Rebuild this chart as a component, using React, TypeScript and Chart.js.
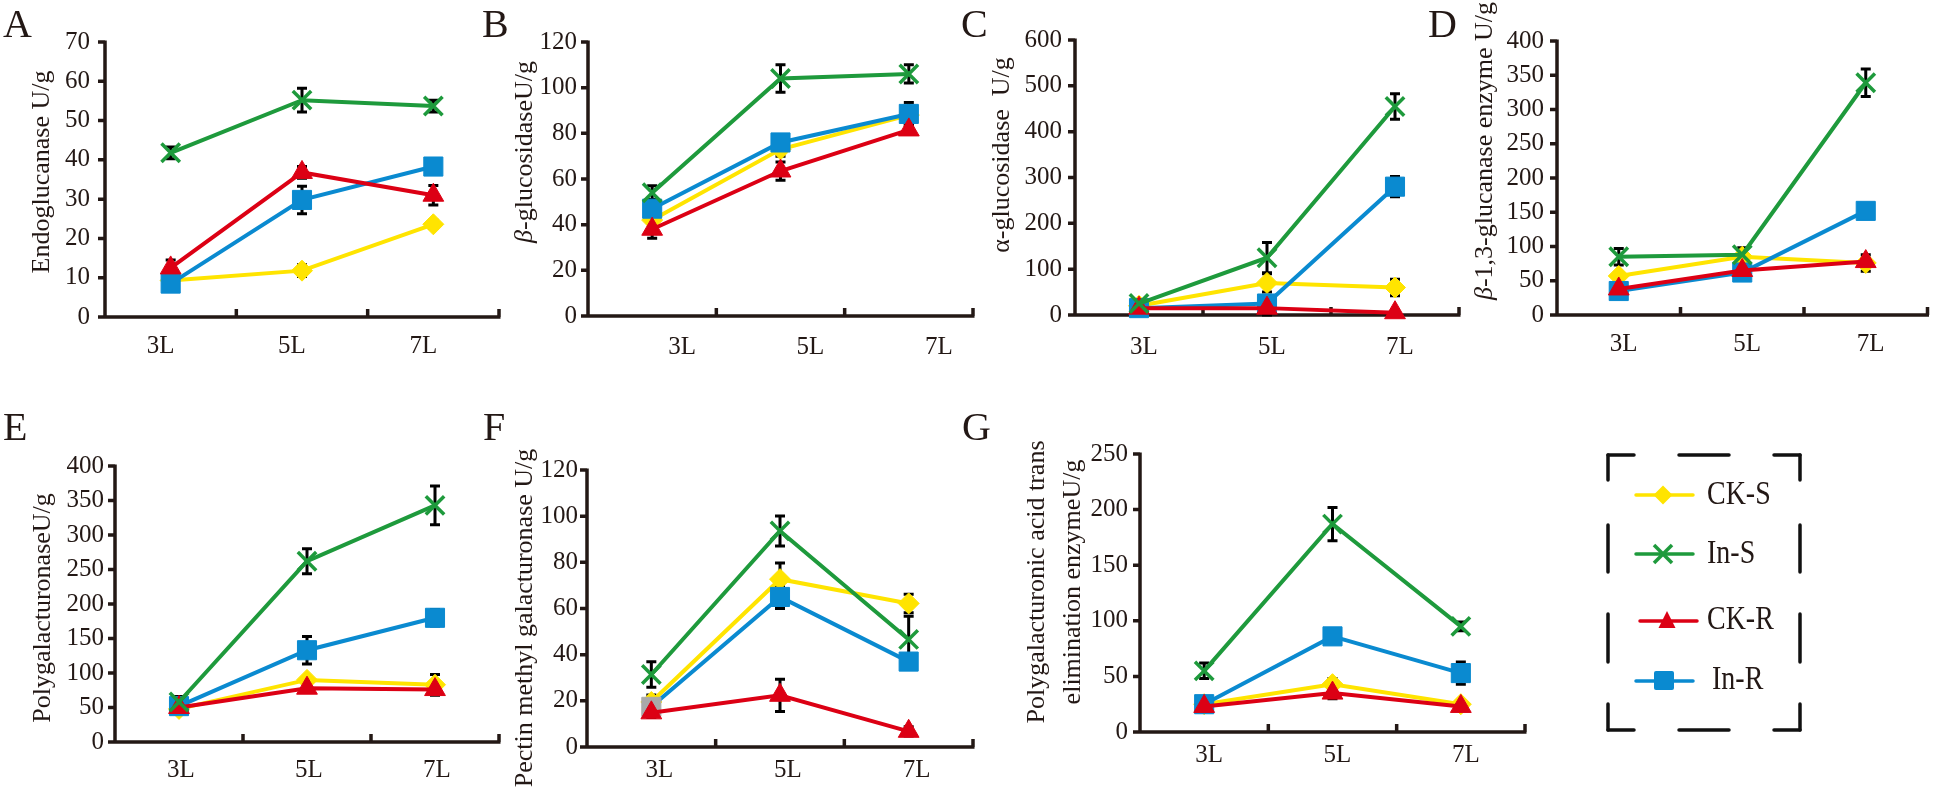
import React, { useEffect, useRef } from 'react';
import { Chart, registerables } from 'chart.js';

Chart.register(...registerables);

const W = 1944;
const H = 791;

const categories = ['3L', '5L', '7L'];
const seriesNames = ['CK-S', 'In-S', 'CK-R', 'In-R'];

// A: Endoglucanase
const endoCKS = [9.3, 11.8, 23.6];
const endoInS = [41.8, 55.2, 53.7];
const endoCKR = [12.5, 36.8, 31.0];
const endoInR = [8.5, 29.8, 38.3];
const endoCKSErr = [0.8, 1.5, 1.0];
const endoInSErr = [1.5, 3.0, 1.5];
const endoCKRErr = [2.0, 1.5, 2.5];
const endoInRErr = [2.0, 3.5, 1.0];

// B: beta-glucosidase
const bgluCKS = [42, 73, 88];
const bgluInS = [54, 104, 106];
const bgluCKR = [38, 63.5, 81.5];
const bgluInR = [47, 76, 88.5];
const bgluCKSErr = [2, 3, 2];
const bgluInSErr = [3, 6, 4];
const bgluCKRErr = [4, 4, 2];
const bgluInRErr = [2, 2, 5];

// C: alpha-glucosidase
const agluCKS = [20, 70, 60];
const agluInS = [25, 125, 455];
const agluCKR = [15, 15, 5];
const agluInR = [15, 25, 280];
const agluCKSErr = [5, 20, 18];
const agluInSErr = [5, 33, 28];
const agluCKRErr = [3, 15, 3];
const agluInRErr = [5, 5, 22];

// D: beta-1,3-glucanase
const glucCKS = [57, 85, 76];
const glucInS = [85, 88, 339];
const glucCKR = [38, 65, 78];
const glucInR = [35, 62, 152];
const glucCKSErr = [5, 5, 12];
const glucInSErr = [12, 10, 20];
const glucCKRErr = [5, 5, 5];
const glucInRErr = [5, 5, 10];

// E: Polygalacturonase
const pgCKS = [48, 90, 83];
const pgInS = [58, 262, 343];
const pgCKR = [50, 78, 76];
const pgInR = [52, 133, 180];
const pgCKSErr = [5, 5, 15];
const pgInSErr = [8, 18, 28];
const pgCKRErr = [5, 5, 8];
const pgInRErr = [10, 20, 12];

// F: Pectin methyl galacturonase
const pmgCKS = [19.5, 72.7, 62.2];
const pmgInS = [31.4, 93.6, 46.6];
const pmgCKR = [14.8, 22.4, 6.8];
const pmgInR = [17.4, 65, 37];
const pmgCKSErr = [3, 7, 4];
const pmgInSErr = [5.5, 6.5, 10];
const pmgCKRErr = [2, 7, 2];
const pmgInRErr = [3, 5, 3];

// G: Polygalacturonic acid trans elimination enzyme
const pgtCKS = [25, 43, 25];
const pgtInS = [55, 187, 95];
const pgtCKR = [23, 35, 23];
const pgtInR = [25, 86, 53];
const pgtCKSErr = [3, 5, 3];
const pgtInSErr = [7, 15, 4];
const pgtCKRErr = [3, 5, 3];
const pgtInRErr = [3, 6, 10];

const FONT = "'Liberation Serif', 'Times New Roman', serif";
const TEXT = '#231815';
const AXIS = '#231815';
const YELLOW = '#FFE400';
const GREEN = '#1E9A3C';
const RED = '#DC0014';
const BLUE = '#0A8AD0';
const GRAY = '#A9A9A9';

const seriesStyles = [
  { color: YELLOW, pointStyle: 'rectRot', radius: 10.5, pbw: 1, order: 3 },
  { color: GREEN, pointStyle: 'crossRot', radius: 13, pbw: 3.5, order: 0 },
  { color: RED, pointStyle: 'triangle', radius: 12, pbw: 1, order: 1 },
  { color: BLUE, pointStyle: 'rect', radius: 13.5, pbw: 1, order: 2 },
];

type Seg = { t: string; italic?: boolean };

type PanelSpec = {
  series: number[][];
  errors: number[][];
  yMax: number;
  yStep: number;
  left: number;
  top: number;
  right: number;
  bottom: number;
  labelOffset: number;
  labelPad: number;
  tickPad: number;
  title: Seg[][];
  titleX: number[];
  titleY: number;
  pointColors?: (string[] | null)[];
};

const panels: PanelSpec[] = [
  {
    series: [endoCKS, endoInS, endoCKR, endoInR],
    errors: [endoCKSErr, endoInSErr, endoCKRErr, endoInRErr],
    yMax: 70, yStep: 10, left: 105, top: 42, right: 499, bottom: 317,
    labelOffset: -10, labelPad: 14, tickPad: 15,
    title: [[{ t: 'Endoglucanase U/g' }]], titleX: [42], titleY: 172,
  },
  {
    series: [bgluCKS, bgluInS, bgluCKR, bgluInR],
    errors: [bgluCKSErr, bgluInSErr, bgluCKRErr, bgluInRErr],
    yMax: 120, yStep: 20, left: 588, top: 42, right: 973, bottom: 316,
    labelOffset: 30, labelPad: 16, tickPad: 11,
    title: [[{ t: 'β', italic: true }, { t: '-glucosidaseU/g' }]], titleX: [525], titleY: 152,
  },
  {
    series: [agluCKS, agluInS, agluCKR, agluInR],
    errors: [agluCKSErr, agluInSErr, agluCKRErr, agluInRErr],
    yMax: 600, yStep: 100, left: 1075, top: 40, right: 1459, bottom: 315,
    labelOffset: 5, labelPad: 17, tickPad: 13,
    title: [[{ t: 'α-glucosidase  U/g' }]], titleX: [1002], titleY: 155,
  },
  {
    series: [glucCKS, glucInS, glucCKR, glucInR],
    errors: [glucCKSErr, glucInSErr, glucCKRErr, glucInRErr],
    yMax: 400, yStep: 50, left: 1557, top: 41, right: 1940, bottom: 315,
    labelOffset: 5, labelPad: 14, tickPad: 13,
    title: [[{ t: 'β', italic: true }, { t: '-1,3-glucanase enzyme U/g' }]], titleX: [1485], titleY: 151,
  },
  {
    series: [pgCKS, pgInS, pgCKR, pgInR],
    errors: [pgCKSErr, pgInSErr, pgCKRErr, pgInRErr],
    yMax: 400, yStep: 50, left: 115, top: 466, right: 499, bottom: 742,
    labelOffset: 2, labelPad: 13, tickPad: 11,
    title: [[{ t: 'PolygalacturonaseU/g' }]], titleX: [43], titleY: 608,
  },
  {
    series: [pmgCKS, pmgInS, pmgCKR, pmgInR],
    errors: [pmgCKSErr, pmgInSErr, pmgCKRErr, pmgInRErr],
    yMax: 120, yStep: 20, left: 587, top: 470, right: 973, bottom: 747,
    labelOffset: 8, labelPad: 8, tickPad: 9,
    title: [[{ t: 'Pectin methyl galacturonase U/g' }]], titleX: [525], titleY: 618,
    pointColors: [null, null, null, [GRAY, BLUE, BLUE]],
  },
  {
    series: [pgtCKS, pgtInS, pgtCKR, pgtInR],
    errors: [pgtCKSErr, pgtInSErr, pgtCKRErr, pgtInRErr],
    yMax: 250, yStep: 50, left: 1140, top: 454, right: 1525, bottom: 732,
    labelOffset: 5, labelPad: 8, tickPad: 12,
    title: [[{ t: 'Polygalacturonic acid trans' }], [{ t: 'elimination enzymeU/g' }]],
    titleX: [1037, 1073], titleY: 582,
  },
];

function buildConfig(p: PanelSpec): any {
  const framePlugin = {
    id: 'frameAndErrors',
    beforeDatasetsDraw(chart: any) {
      const { ctx, chartArea, scales } = chart;
      const { left, right, top, bottom } = chartArea;
      const y = scales.y;
      ctx.save();
      ctx.strokeStyle = AXIS;
      ctx.lineWidth = 3.5;
      ctx.lineCap = 'butt';
      ctx.beginPath();
      ctx.moveTo(left, top - 1.5);
      ctx.lineTo(left, bottom + 1.5);
      ctx.moveTo(left - 7, bottom);
      ctx.lineTo(right + 1.5, bottom);
      y.ticks.forEach((t: any) => {
        const py = y.getPixelForValue(t.value);
        ctx.moveTo(left - 7, py);
        ctx.lineTo(left, py);
      });
      const n = categories.length;
      for (let k = 1; k <= n; k++) {
        const px = left + ((right - left) * k) / n;
        ctx.moveTo(px, bottom);
        ctx.lineTo(px, bottom - 8);
      }
      ctx.stroke();

      // error bars
      ctx.strokeStyle = '#000';
      ctx.lineWidth = 3;
      p.series.forEach((vals, di) => {
        const meta = chart.getDatasetMeta(di);
        vals.forEach((v, j) => {
          const e = p.errors[di][j];
          const px = meta.data[j].x;
          const y1 = y.getPixelForValue(v + e);
          const y2 = y.getPixelForValue(Math.max(v - e, 0));
          ctx.beginPath();
          ctx.moveTo(px, y1);
          ctx.lineTo(px, y2);
          ctx.moveTo(px - 5, y1);
          ctx.lineTo(px + 5, y1);
          ctx.moveTo(px - 5, y2);
          ctx.lineTo(px + 5, y2);
          ctx.stroke();
        });
      });
      ctx.restore();
    },
  };

  const titlePlugin = {
    id: 'yTitleMixed',
    afterDraw(chart: any) {
      const ctx = chart.ctx;
      ctx.save();
      ctx.fillStyle = TEXT;
      ctx.textBaseline = 'middle';
      ctx.textAlign = 'left';
      p.title.forEach((segs, li) => {
        const fontOf = (s: Seg) => `${s.italic ? 'italic ' : ''}26px ${FONT}`;
        const widths = segs.map((s) => {
          ctx.font = fontOf(s);
          return ctx.measureText(s.t).width;
        });
        const total = widths.reduce((a, b) => a + b, 0);
        ctx.save();
        ctx.translate(p.titleX[li], p.titleY);
        ctx.rotate(-Math.PI / 2);
        let x = -total / 2;
        segs.forEach((s, i) => {
          ctx.font = fontOf(s);
          ctx.fillText(s.t, x, 0);
          x += widths[i];
        });
        ctx.restore();
      });
      ctx.restore();
    },
  };

  const datasets = p.series.map((vals, i) => {
    const st = seriesStyles[i];
    const pc = p.pointColors && p.pointColors[i] ? p.pointColors[i] : st.color;
    return {
      label: seriesNames[i],
      data: vals,
      borderColor: st.color,
      backgroundColor: st.color,
      borderWidth: 4,
      pointStyle: st.pointStyle,
      pointRadius: st.radius,
      pointBackgroundColor: pc,
      pointBorderColor: pc,
      pointBorderWidth: st.pbw,
      order: st.order,
      tension: 0,
      clip: false,
    };
  });

  return {
    type: 'line',
    data: { labels: categories, datasets },
    options: {
      responsive: false,
      maintainAspectRatio: false,
      animation: false,
      devicePixelRatio: 1,
      events: [],
      layout: { padding: { left: 0, top: p.top, right: W - p.right, bottom: 0 } },
      plugins: { legend: { display: false }, tooltip: { enabled: false }, title: { display: false } },
      scales: {
        x: {
          type: 'category',
          offset: true,
          grid: { display: false, drawTicks: false },
          border: { display: false },
          ticks: {
            font: { family: FONT, size: 25 },
            color: TEXT,
            labelOffset: p.labelOffset,
            padding: p.labelPad,
            maxRotation: 0,
            autoSkip: false,
          },
          afterFit: (s: any) => {
            s.height = H - p.bottom;
          },
        },
        y: {
          type: 'linear',
          min: 0,
          max: p.yMax,
          grid: { display: false, drawTicks: false },
          border: { display: false },
          ticks: {
            stepSize: p.yStep,
            font: { family: FONT, size: 25 },
            color: TEXT,
            padding: p.tickPad,
          },
          afterFit: (s: any) => {
            s.width = p.left;
          },
        },
      },
    },
    plugins: [framePlugin, titlePlugin],
  };
}

function Panel({ spec }: { spec: PanelSpec }) {
  const ref = useRef<HTMLCanvasElement>(null);
  useEffect(() => {
    const chart = new Chart(ref.current as HTMLCanvasElement, buildConfig(spec));
    return () => chart.destroy();
  }, [spec]);
  return (
    <canvas
      ref={ref}
      width={W}
      height={H}
      style={{ position: 'absolute', left: 0, top: 0, width: W, height: H }}
    />
  );
}

const panelLetters = [
  { t: 'A', x: 3, y: 37 },
  { t: 'B', x: 482, y: 37 },
  { t: 'C', x: 961, y: 37 },
  { t: 'D', x: 1428, y: 37 },
  { t: 'E', x: 3, y: 440 },
  { t: 'F', x: 483, y: 440 },
  { t: 'G', x: 962, y: 440 },
];

function Legend() {
  const segs: [number, number, number, number][] = [
    // top
    [1608, 455, 1634, 455], [1679, 455, 1729, 455], [1774, 455, 1800, 455],
    // bottom
    [1608, 730, 1634, 730], [1679, 730, 1729, 730], [1774, 730, 1800, 730],
    // left
    [1608, 455, 1608, 480], [1608, 525, 1608, 572], [1608, 614, 1608, 662], [1608, 704, 1608, 730],
    // right
    [1800, 455, 1800, 480], [1800, 525, 1800, 572], [1800, 614, 1800, 662], [1800, 704, 1800, 730],
  ];
  const rows = [
    { y: 495, x1: 1636, x2: 1693, cx: 1663, tx: 1707, ty: 504 },
    { y: 554, x1: 1636, x2: 1693, cx: 1663, tx: 1707, ty: 563 },
    { y: 621, x1: 1640, x2: 1697, cx: 1667, tx: 1707, ty: 629 },
    { y: 681, x1: 1636, x2: 1693, cx: 1664, tx: 1712, ty: 689 },
  ];
  return (
    <g>
      <g stroke="#111" strokeWidth={3.5} fill="none" strokeLinecap="round">
        {segs.map((s, i) => (
          <line key={i} x1={s[0]} y1={s[1]} x2={s[2]} y2={s[3]} />
        ))}
      </g>
      {rows.map((r, i) => {
        const st = seriesStyles[i];
        let marker: any = null;
        if (i === 0) {
          marker = (
            <polygon
              points={`${r.cx},${r.y - 9.5} ${r.cx + 9.5},${r.y} ${r.cx},${r.y + 9.5} ${r.cx - 9.5},${r.y}`}
              fill={st.color}
            />
          );
        } else if (i === 1) {
          marker = (
            <g stroke={st.color} strokeWidth={3.5}>
              <line x1={r.cx - 9} y1={r.y - 9} x2={r.cx + 9} y2={r.y + 9} />
              <line x1={r.cx - 9} y1={r.y + 9} x2={r.cx + 9} y2={r.y - 9} />
            </g>
          );
        } else if (i === 2) {
          marker = (
            <polygon
              points={`${r.cx},${r.y - 10} ${r.cx + 8.5},${r.y + 7} ${r.cx - 8.5},${r.y + 7}`}
              fill={st.color}
            />
          );
        } else {
          marker = <rect x={r.cx - 10} y={r.y - 10} width={20} height={19} rx={2} fill={st.color} />;
        }
        return (
          <g key={i}>
            <line x1={r.x1} y1={r.y} x2={r.x2} y2={r.y} stroke={st.color} strokeWidth={3.5} strokeLinecap="round" />
            {marker}
            <text
              transform={`translate(${r.tx},${r.ty}) scale(1,1.2)`}
              fontFamily={FONT}
              fontSize={28}
              fill={TEXT}
            >
              {seriesNames[i]}
            </text>
          </g>
        );
      })}
    </g>
  );
}

export default function App() {
  return (
    <div
      style={{
        position: 'absolute',
        left: 0,
        top: 0,
        width: W,
        height: H,
        background: '#fff',
        overflow: 'hidden',
      }}
    >
      {panels.map((p, i) => (
        <Panel key={i} spec={p} />
      ))}
      <svg
        width={W}
        height={H}
        style={{ position: 'absolute', left: 0, top: 0, pointerEvents: 'none' }}
      >
        {panelLetters.map((l) => (
          <text key={l.t} x={l.x} y={l.y} fontFamily={FONT} fontSize={40} fill={TEXT}>
            {l.t}
          </text>
        ))}
        <Legend />
      </svg>
    </div>
  );
}
